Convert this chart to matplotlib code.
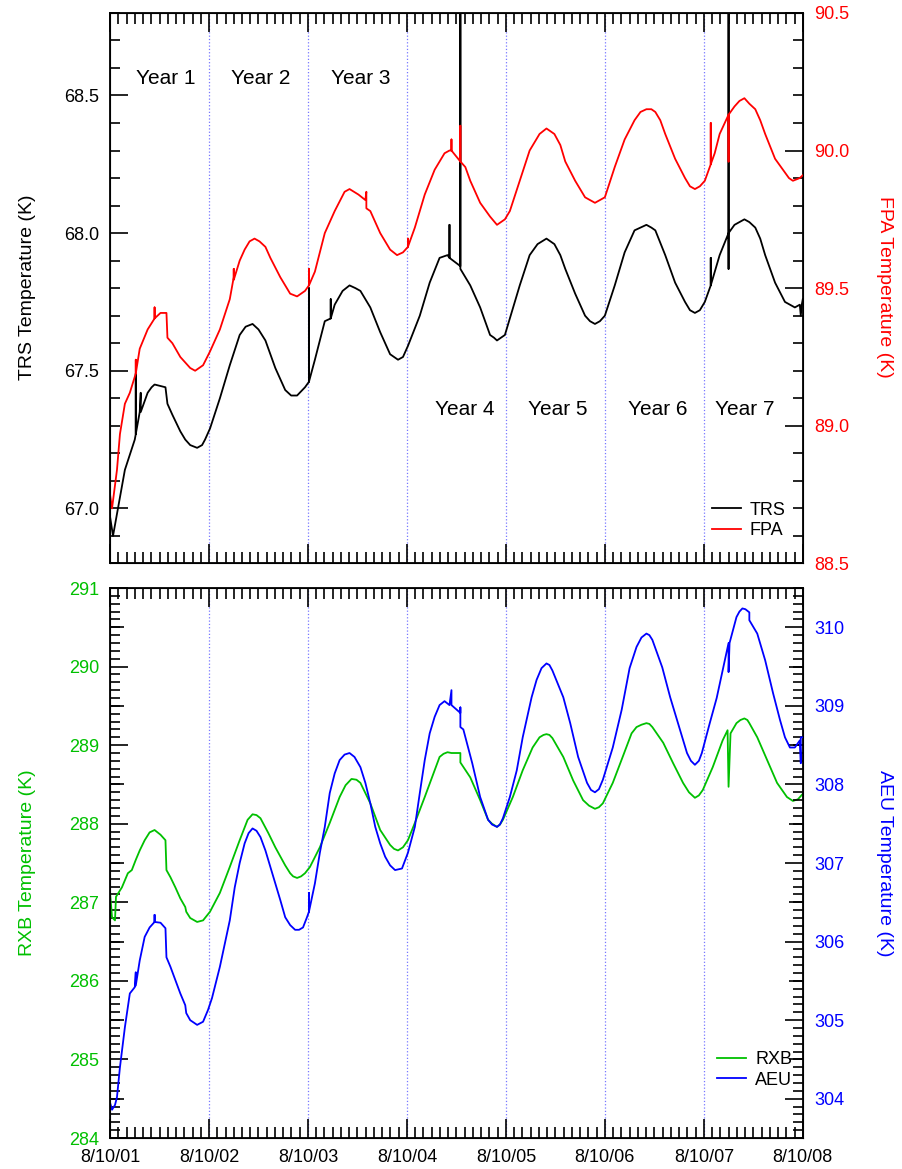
import matplotlib
matplotlib.use('Agg')
import matplotlib.pyplot as plt
from matplotlib.ticker import MultipleLocator, FixedLocator, FormatStrFormatter

plt.rcParams['font.family'] = ['Liberation Sans', 'DejaVu Sans']

# time in years since 8/10/01
date_ticks = [0, 1, 2, 3, 4, 5, 6, 7]
date_labels = ['8/10/01', '8/10/02', '8/10/03', '8/10/04', '8/10/05', '8/10/06', '8/10/07', '8/10/08']

trs_t = [0.00, 0.03, 0.08, 0.15, 0.25, 0.26, 0.26, 0.26, 0.30, 0.31,
         0.31, 0.38, 0.42, 0.45, 0.56, 0.58, 0.63, 0.71, 0.76, 0.81,
         0.88, 0.93, 0.96, 1.01, 1.11, 1.21, 1.31, 1.37, 1.44, 1.50,
         1.57, 1.67, 1.77, 1.83, 1.89, 1.97, 2.01, 2.01, 2.01, 2.07,
         2.17, 2.23, 2.23, 2.23, 2.27, 2.35, 2.42, 2.48, 2.53, 2.63,
         2.73, 2.83, 2.87, 2.91, 2.96, 3.01, 3.13, 3.23, 3.33, 3.41,
         3.43, 3.43, 3.43, 3.54, 3.54, 3.54, 3.64, 3.74, 3.84, 3.88,
         3.91, 3.95, 3.99, 4.04, 4.14, 4.24, 4.32, 4.41, 4.49, 4.55,
         4.60, 4.70, 4.80, 4.85, 4.90, 4.95, 5.00, 5.10, 5.20, 5.30,
         5.36, 5.42, 5.47, 5.51, 5.61, 5.71, 5.81, 5.86, 5.91, 5.96,
         6.01, 6.07, 6.07, 6.07, 6.16, 6.25, 6.25, 6.25, 6.25, 6.31,
         6.36, 6.41, 6.46, 6.52, 6.57, 6.62, 6.72, 6.82, 6.87, 6.92,
         6.97, 6.98, 6.99, 7.00]
trs_v = [66.97, 66.90, 67.00, 67.14, 67.25, 67.27, 67.49, 67.27, 67.35, 67.42,
         67.35, 67.42, 67.44, 67.45, 67.44, 67.38, 67.34, 67.28, 67.25, 67.23,
         67.22, 67.23, 67.25, 67.29, 67.40, 67.52, 67.63, 67.66, 67.67, 67.65,
         67.61, 67.51, 67.43, 67.41, 67.41, 67.44, 67.46, 67.80, 67.46, 67.54,
         67.68, 67.69, 67.76, 67.69, 67.74, 67.79, 67.81, 67.80, 67.79, 67.73,
         67.64, 67.56, 67.55, 67.54, 67.55, 67.59, 67.70, 67.82, 67.91, 67.92,
         67.91, 68.03, 67.91, 67.88, 69.00, 67.87, 67.81, 67.73, 67.63, 67.62,
         67.61, 67.62, 67.63, 67.69, 67.81, 67.92, 67.96, 67.98, 67.96, 67.92,
         67.87, 67.78, 67.70, 67.68, 67.67, 67.68, 67.70, 67.81, 67.93, 68.01,
         68.02, 68.03, 68.02, 68.01, 67.92, 67.82, 67.75, 67.72, 67.71, 67.72,
         67.75, 67.81, 67.91, 67.81, 67.92, 68.00, 69.00, 67.87, 68.00, 68.03,
         68.04, 68.05, 68.04, 68.02, 67.98, 67.92, 67.82, 67.75, 67.74, 67.73,
         67.74, 67.70, 67.74, 67.76]

fpa_t = [0.00, 0.02, 0.07, 0.10, 0.15, 0.20, 0.26, 0.26, 0.26, 0.30,
         0.38, 0.45, 0.45, 0.45, 0.51, 0.57, 0.58, 0.63, 0.71, 0.76,
         0.81, 0.86, 0.94, 1.01, 1.11, 1.21, 1.25, 1.25, 1.25, 1.31,
         1.36, 1.41, 1.46, 1.51, 1.57, 1.62, 1.72, 1.82, 1.89, 1.97,
         2.01, 2.01, 2.01, 2.07, 2.17, 2.27, 2.37, 2.42, 2.51, 2.58,
         2.59, 2.59, 2.63, 2.73, 2.83, 2.90, 2.96, 3.01, 3.01, 3.01,
         3.08, 3.18, 3.28, 3.38, 3.43, 3.45, 3.45, 3.45, 3.54, 3.54,
         3.54, 3.59, 3.64, 3.74, 3.84, 3.91, 3.99, 4.04, 4.14, 4.24,
         4.34, 4.41, 4.49, 4.55, 4.60, 4.70, 4.80, 4.85, 4.90, 4.95,
         5.00, 5.10, 5.20, 5.30, 5.36, 5.42, 5.47, 5.51, 5.56, 5.61,
         5.71, 5.81, 5.86, 5.91, 5.96, 6.01, 6.07, 6.07, 6.07, 6.11,
         6.16, 6.25, 6.25, 6.25, 6.31, 6.36, 6.41, 6.46, 6.52, 6.57,
         6.62, 6.72, 6.82, 6.86, 6.90, 6.97, 7.00]
fpa_v = [88.75, 88.70, 88.84, 88.97, 89.08, 89.12, 89.19, 89.24, 89.19, 89.28,
         89.35, 89.39, 89.43, 89.39, 89.41, 89.41, 89.32, 89.30, 89.25, 89.23,
         89.21, 89.20, 89.22, 89.27, 89.35, 89.46, 89.54, 89.57, 89.53, 89.60,
         89.64, 89.67, 89.68, 89.67, 89.65, 89.61, 89.54, 89.48, 89.47, 89.49,
         89.51, 89.57, 89.51, 89.56, 89.70, 89.78, 89.85, 89.86, 89.84, 89.82,
         89.85, 89.79, 89.78, 89.70, 89.64, 89.62, 89.63, 89.65, 89.68, 89.65,
         89.72, 89.84, 89.93, 89.99, 90.00, 90.00, 90.04, 90.00, 89.96, 90.09,
         89.96, 89.94, 89.89, 89.81, 89.76, 89.73, 89.75, 89.78, 89.89, 90.00,
         90.06, 90.08, 90.06, 90.02, 89.96, 89.89, 89.83, 89.82, 89.81, 89.82,
         89.83, 89.94, 90.04, 90.11, 90.14, 90.15, 90.15, 90.14, 90.11, 90.06,
         89.97, 89.90, 89.87, 89.86, 89.87, 89.89, 89.95, 90.10, 89.95, 89.99,
         90.06, 90.13, 89.96, 90.13, 90.16, 90.18, 90.19, 90.17, 90.15, 90.11,
         90.06, 89.97, 89.92, 89.90, 89.89, 89.90, 89.91]

rxb_t = [0.00, 0.02, 0.05, 0.06, 0.12, 0.18, 0.22, 0.26, 0.30, 0.35,
         0.40, 0.45, 0.51, 0.56, 0.57, 0.61, 0.66, 0.71, 0.76, 0.77,
         0.81, 0.88, 0.94, 1.01, 1.11, 1.21, 1.31, 1.39, 1.44, 1.48,
         1.52, 1.60, 1.67, 1.77, 1.82, 1.85, 1.89, 1.93, 1.97, 2.02,
         2.12, 2.22, 2.32, 2.38, 2.44, 2.49, 2.53, 2.63, 2.73, 2.83,
         2.87, 2.91, 2.96, 3.01, 3.08, 3.18, 3.28, 3.33, 3.37, 3.41,
         3.45, 3.54, 3.54, 3.64, 3.74, 3.82, 3.86, 3.91, 3.94, 3.97,
         4.07, 4.17, 4.27, 4.34, 4.38, 4.41, 4.44, 4.47, 4.58, 4.68,
         4.78, 4.84, 4.90, 4.94, 4.98, 5.08, 5.18, 5.27, 5.32, 5.37,
         5.42, 5.45, 5.48, 5.59, 5.69, 5.79, 5.85, 5.91, 5.95, 5.99,
         6.09, 6.19, 6.24, 6.25, 6.27, 6.33, 6.37, 6.41, 6.44, 6.46,
         6.54, 6.64, 6.74, 6.84, 6.90, 6.95, 7.00]
rxb_v = [287.12, 286.81, 286.77, 287.07, 287.19, 287.37, 287.41, 287.54, 287.66, 287.79,
         287.89, 287.92, 287.86, 287.79, 287.41, 287.32, 287.19, 287.05, 286.94, 286.88,
         286.80, 286.75, 286.77, 286.88, 287.12, 287.45, 287.79, 288.05, 288.12, 288.11,
         288.07, 287.88, 287.70, 287.47, 287.37, 287.33, 287.31, 287.33, 287.37, 287.45,
         287.70, 288.01, 288.34, 288.49, 288.57, 288.56, 288.52, 288.26, 287.92, 287.73,
         287.68, 287.66, 287.70, 287.79, 288.01, 288.34, 288.68, 288.85, 288.89, 288.91,
         288.90, 288.90, 288.78, 288.59, 288.30, 288.05, 288.00, 287.96, 287.99, 288.05,
         288.34, 288.68, 288.97, 289.10, 289.13, 289.14, 289.13, 289.09, 288.85, 288.55,
         288.30, 288.23, 288.19, 288.21, 288.26, 288.52, 288.85, 289.15, 289.23, 289.26,
         289.28, 289.27, 289.23, 289.03, 288.77, 288.52, 288.40, 288.33, 288.36, 288.43,
         288.72, 289.06, 289.19, 288.47, 289.15, 289.28, 289.32, 289.34, 289.32, 289.28,
         289.10, 288.81, 288.52, 288.34, 288.29, 288.31, 288.38]

aeu_t = [0.00, 0.02, 0.05, 0.07, 0.10, 0.15, 0.20, 0.25, 0.26, 0.26,
         0.30, 0.35, 0.40, 0.45, 0.45, 0.45, 0.51, 0.56, 0.57, 0.61,
         0.66, 0.71, 0.76, 0.77, 0.81, 0.88, 0.94, 0.99, 1.03, 1.11,
         1.21, 1.26, 1.31, 1.36, 1.40, 1.44, 1.48, 1.52, 1.57, 1.62,
         1.67, 1.72, 1.77, 1.82, 1.87, 1.91, 1.95, 1.99, 2.01, 2.01,
         2.01, 2.07, 2.12, 2.17, 2.22, 2.27, 2.32, 2.37, 2.42, 2.47,
         2.53, 2.58, 2.63, 2.68, 2.73, 2.78, 2.83, 2.88, 2.95, 3.01,
         3.08, 3.13, 3.18, 3.23, 3.28, 3.33, 3.38, 3.43, 3.45, 3.45,
         3.54, 3.54, 3.54, 3.57, 3.66, 3.74, 3.82, 3.86, 3.91, 3.94,
         3.97, 4.04, 4.11, 4.17, 4.26, 4.31, 4.36, 4.41, 4.44, 4.47,
         4.58, 4.65, 4.73, 4.82, 4.86, 4.90, 4.94, 4.98, 5.08, 5.17,
         5.25, 5.32, 5.37, 5.42, 5.45, 5.48, 5.58, 5.66, 5.76, 5.83,
         5.87, 5.91, 5.95, 5.98, 6.06, 6.13, 6.19, 6.25, 6.25, 6.26,
         6.33, 6.36, 6.39, 6.42, 6.46, 6.46, 6.54, 6.62, 6.70, 6.77,
         6.82, 6.87, 6.92, 6.97, 6.98, 6.98, 7.00]
aeu_v = [303.95, 303.86, 303.92, 304.02, 304.40, 304.91, 305.34, 305.42, 305.61, 305.44,
         305.76, 306.06, 306.18, 306.25, 306.34, 306.25, 306.24, 306.17, 305.80, 305.68,
         305.51, 305.34, 305.19, 305.09, 305.00, 304.94, 304.98, 305.13, 305.28, 305.68,
         306.27, 306.69, 307.00, 307.25, 307.38, 307.44, 307.41, 307.33, 307.16, 306.95,
         306.74, 306.53, 306.31, 306.21, 306.15, 306.15, 306.18, 306.31, 306.38, 306.62,
         306.38, 306.74, 307.13, 307.46, 307.89, 308.14, 308.31, 308.38, 308.40, 308.35,
         308.22, 308.02, 307.76, 307.46, 307.25, 307.08, 306.97, 306.91, 306.93, 307.13,
         307.46, 307.89, 308.31, 308.65, 308.86, 309.01, 309.06, 309.01, 309.20, 309.01,
         308.91, 308.98, 308.73, 308.70, 308.27, 307.84, 307.55, 307.49, 307.46, 307.49,
         307.57, 307.84, 308.18, 308.60, 309.11, 309.33, 309.48, 309.54, 309.52, 309.45,
         309.11, 308.78, 308.35, 308.02, 307.93, 307.90, 307.94, 308.06, 308.47, 308.95,
         309.48, 309.75, 309.87, 309.92, 309.90, 309.84, 309.49, 309.11, 308.69, 308.40,
         308.30, 308.25, 308.30, 308.40, 308.78, 309.10, 309.45, 309.80, 309.43, 309.80,
         310.13, 310.20, 310.24, 310.23, 310.19, 310.09, 309.92, 309.58, 309.16, 308.82,
         308.60, 308.47, 308.47, 308.56, 308.27, 308.60, 308.60]

year_names = ['Year 1', 'Year 2', 'Year 3', 'Year 4', 'Year 5', 'Year 6', 'Year 7']
year_x = [0.56, 1.52, 2.53, 3.58, 4.52, 5.53, 6.41]
year_y = [68.56, 68.56, 68.56, 67.36, 67.36, 67.36, 67.36]

GREEN = '#00c000'
LW = 1.3
fig = plt.figure(figsize=(9.02, 11.69), dpi=100)
ax1 = fig.add_axes([0.122, 0.518, 0.768, 0.471])
ax2 = fig.add_axes([0.122, 0.0265, 0.768, 0.4705])


def style_x(ax, show_labels):
    ax.set_xlim(0, 7)
    ax.xaxis.set_major_locator(FixedLocator(date_ticks))
    ax.xaxis.set_minor_locator(MultipleLocator(1 / 12))
    if show_labels:
        ax.set_xticklabels(date_labels)
    else:
        ax.set_xticklabels([])
    ax.tick_params(axis='x', which='both', direction='in', top=True, bottom=True,
                   width=1.2, labelsize=13, pad=8)
    ax.tick_params(axis='x', which='major', length=14)
    ax.tick_params(axis='x', which='minor', length=8)
    for yr in date_ticks[1:-1]:
        ax.axvline(yr, color='#7777ff', ls=':', lw=0.9, zorder=0)
    for s in ax.spines.values():
        s.set_linewidth(1.3)


def style_y(ax, side, color, major, minor):
    ax.yaxis.set_major_locator(MultipleLocator(major))
    ax.yaxis.set_minor_locator(MultipleLocator(minor))
    ax.tick_params(axis='y', which='both', direction='in', width=1.2,
                   labelsize=13, labelcolor=color, pad=8,
                   left=(side == 'left'), right=(side == 'right'),
                   labelleft=(side == 'left'), labelright=(side == 'right'))
    ax.tick_params(axis='y', which='major', length=13)
    ax.tick_params(axis='y', which='minor', length=7)


def half_ticks(ax, side, lo, hi):
    # medium ticks at the half units, as in the original plot
    sec = ax.secondary_yaxis(side)
    sec.yaxis.set_major_locator(FixedLocator([v + 0.5 for v in range(lo, hi)]))
    sec.tick_params(axis='y', direction='in', length=10, width=1.2,
                    labelleft=False, labelright=False)
    sec.spines[side].set_visible(False)


# top panel
style_x(ax1, False)
ax1.set_ylim(66.8, 68.8)
style_y(ax1, 'left', 'black', 0.5, 0.1)
ax1.yaxis.set_major_formatter(FormatStrFormatter('%.1f'))
l_trs, = ax1.plot(trs_t, trs_v, color='black', lw=LW)
for name, x, y in zip(year_names, year_x, year_y):
    ax1.text(x, y, name, ha='center', va='center', fontsize=15)

ax1b = ax1.twinx()
ax1b.set_ylim(88.5, 90.5)
style_y(ax1b, 'right', 'red', 0.5, 0.1)
ax1b.yaxis.set_major_formatter(FormatStrFormatter('%.1f'))
l_fpa, = ax1b.plot(fpa_t, fpa_v, color='red', lw=LW)
ax1b.legend([l_trs, l_fpa], ['TRS', 'FPA'], loc='upper left',
            bbox_to_anchor=(0.789, 0.571), bbox_transform=fig.transFigure,
            frameon=False, fontsize=13, handlelength=1.6, handletextpad=0.5,
            borderpad=0, borderaxespad=0, labelspacing=0.2)

# bottom panel
style_x(ax2, True)
ax2.set_ylim(284, 291)
style_y(ax2, 'left', GREEN, 1, 0.1)
half_ticks(ax2, 'left', 284, 291)
l_rxb, = ax2.plot(rxb_t, rxb_v, color=GREEN, lw=LW)

ax2b = ax2.twinx()
ax2b.set_ylim(303.5, 310.5)
style_y(ax2b, 'right', 'blue', 1, 0.1)
half_ticks(ax2b, 'right', 304, 310)
l_aeu, = ax2b.plot(aeu_t, aeu_v, color='blue', lw=LW)
ax2b.legend([l_rxb, l_aeu], ['RXB', 'AEU'], loc='upper left',
            bbox_to_anchor=(0.795, 0.101), bbox_transform=fig.transFigure,
            frameon=False, fontsize=13, handlelength=1.6, handletextpad=0.5,
            borderpad=0, borderaxespad=0, labelspacing=0.2)

# axis titles
fig.text(28 / 902, 1 - 287 / 1169, 'TRS Temperature (K)', rotation=90,
         ha='center', va='center', fontsize=14)
fig.text(885 / 902, 1 - 287 / 1169, 'FPA Temperature (K)', rotation=270,
         ha='center', va='center', fontsize=14, color='red')
fig.text(28 / 902, 1 - 863 / 1169, 'RXB Temperature (K)', rotation=90,
         ha='center', va='center', fontsize=14, color=GREEN)
fig.text(885 / 902, 1 - 863 / 1169, 'AEU Temperature (K)', rotation=270,
         ha='center', va='center', fontsize=14, color='blue')

fig.savefig('out.png', dpi=100)
